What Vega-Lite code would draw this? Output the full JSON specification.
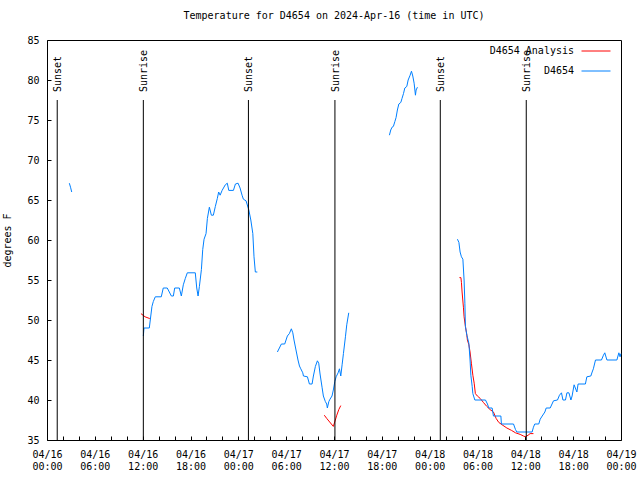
{
  "$schema": "https://vega.github.io/schema/vega-lite/v6.json",
  "width": 574,
  "height": 400,
  "autosize": "none",
  "padding": {"left": 47, "top": 40, "right": 19, "bottom": 40},
  "background": "white",
  "title": {"text": "Temperature for D4654 on 2024-Apr-16 (time in UTC)", "font": "DejaVu Sans Mono", "fontSize": 10, "fontWeight": "normal", "color": "black", "offset": 14},
  "config": {
    "view": {"stroke": "black", "strokeWidth": 1},
    "axis": {"grid": false, "domain": false, "tickColor": "black", "labelColor": "black", "titleColor": "black", "labelFont": "DejaVu Sans Mono", "labelFontSize": 10, "titleFont": "DejaVu Sans Mono", "titleFontSize": 10, "titleFontWeight": "normal"},
    "text": {"font": "DejaVu Sans Mono", "fontSize": 10}
  },
  "datasets": {
    "sun": [
      {"t": "2024-04-16T01:17Z", "e": "Sunset"},
      {"t": "2024-04-16T12:05Z", "e": "Sunrise"},
      {"t": "2024-04-17T01:16Z", "e": "Sunset"},
      {"t": "2024-04-17T12:07Z", "e": "Sunrise"},
      {"t": "2024-04-18T01:20Z", "e": "Sunset"},
      {"t": "2024-04-18T12:07Z", "e": "Sunrise"}
    ],
    "temps": [
      {"s": "D4654 Analysis", "g": "a1", "t": "2024-04-16T11:47Z", "v": 50.8},
      {"s": "D4654 Analysis", "g": "a1", "t": "2024-04-16T12:18Z", "v": 50.4},
      {"s": "D4654 Analysis", "g": "a1", "t": "2024-04-16T12:50Z", "v": 50.2},
      {"s": "D4654 Analysis", "g": "a1", "t": "2024-04-16T13:01Z", "v": 50.2},
      {"s": "D4654 Analysis", "g": "a2", "t": "2024-04-17T10:47Z", "v": 38.1},
      {"s": "D4654 Analysis", "g": "a2", "t": "2024-04-17T11:05Z", "v": 37.7},
      {"s": "D4654 Analysis", "g": "a2", "t": "2024-04-17T11:40Z", "v": 37.0},
      {"s": "D4654 Analysis", "g": "a2", "t": "2024-04-17T11:55Z", "v": 36.7},
      {"s": "D4654 Analysis", "g": "a2", "t": "2024-04-17T12:10Z", "v": 37.5},
      {"s": "D4654 Analysis", "g": "a2", "t": "2024-04-17T12:21Z", "v": 38.1},
      {"s": "D4654 Analysis", "g": "a2", "t": "2024-04-17T12:36Z", "v": 38.8},
      {"s": "D4654 Analysis", "g": "a2", "t": "2024-04-17T12:51Z", "v": 39.3},
      {"s": "D4654 Analysis", "g": "a3", "t": "2024-04-18T03:44Z", "v": 55.3},
      {"s": "D4654 Analysis", "g": "a3", "t": "2024-04-18T03:55Z", "v": 55.3},
      {"s": "D4654 Analysis", "g": "a3", "t": "2024-04-18T03:59Z", "v": 54.7},
      {"s": "D4654 Analysis", "g": "a3", "t": "2024-04-18T04:04Z", "v": 53.5},
      {"s": "D4654 Analysis", "g": "a3", "t": "2024-04-18T04:14Z", "v": 51.6},
      {"s": "D4654 Analysis", "g": "a3", "t": "2024-04-18T04:19Z", "v": 50.4},
      {"s": "D4654 Analysis", "g": "a3", "t": "2024-04-18T04:29Z", "v": 49.2},
      {"s": "D4654 Analysis", "g": "a3", "t": "2024-04-18T04:40Z", "v": 48.1},
      {"s": "D4654 Analysis", "g": "a3", "t": "2024-04-18T04:44Z", "v": 47.5},
      {"s": "D4654 Analysis", "g": "a3", "t": "2024-04-18T04:55Z", "v": 46.9},
      {"s": "D4654 Analysis", "g": "a3", "t": "2024-04-18T05:04Z", "v": 46.0},
      {"s": "D4654 Analysis", "g": "a3", "t": "2024-04-18T05:14Z", "v": 44.6},
      {"s": "D4654 Analysis", "g": "a3", "t": "2024-04-18T05:25Z", "v": 43.1},
      {"s": "D4654 Analysis", "g": "a3", "t": "2024-04-18T05:35Z", "v": 42.1},
      {"s": "D4654 Analysis", "g": "a3", "t": "2024-04-18T05:44Z", "v": 40.8},
      {"s": "D4654 Analysis", "g": "a3", "t": "2024-04-18T05:59Z", "v": 40.5},
      {"s": "D4654 Analysis", "g": "a3", "t": "2024-04-18T06:20Z", "v": 40.2},
      {"s": "D4654 Analysis", "g": "a3", "t": "2024-04-18T06:44Z", "v": 39.7},
      {"s": "D4654 Analysis", "g": "a3", "t": "2024-04-18T07:10Z", "v": 39.2},
      {"s": "D4654 Analysis", "g": "a3", "t": "2024-04-18T07:35Z", "v": 38.8},
      {"s": "D4654 Analysis", "g": "a3", "t": "2024-04-18T08:00Z", "v": 38.5},
      {"s": "D4654 Analysis", "g": "a3", "t": "2024-04-18T08:20Z", "v": 37.7},
      {"s": "D4654 Analysis", "g": "a3", "t": "2024-04-18T08:40Z", "v": 37.2},
      {"s": "D4654 Analysis", "g": "a3", "t": "2024-04-18T09:05Z", "v": 36.9},
      {"s": "D4654 Analysis", "g": "a3", "t": "2024-04-18T09:41Z", "v": 36.5},
      {"s": "D4654 Analysis", "g": "a3", "t": "2024-04-18T10:16Z", "v": 36.2},
      {"s": "D4654 Analysis", "g": "a3", "t": "2024-04-18T10:46Z", "v": 35.9},
      {"s": "D4654 Analysis", "g": "a3", "t": "2024-04-18T11:21Z", "v": 35.7},
      {"s": "D4654 Analysis", "g": "a3", "t": "2024-04-18T11:46Z", "v": 35.5},
      {"s": "D4654 Analysis", "g": "a3", "t": "2024-04-18T12:01Z", "v": 35.4},
      {"s": "D4654 Analysis", "g": "a3", "t": "2024-04-18T12:21Z", "v": 35.6},
      {"s": "D4654 Analysis", "g": "a3", "t": "2024-04-18T12:36Z", "v": 35.8},
      {"s": "D4654 Analysis", "g": "a3", "t": "2024-04-18T13:01Z", "v": 35.8},
      {"s": "D4654", "g": "b1", "t": "2024-04-16T02:48Z", "v": 67.1},
      {"s": "D4654", "g": "b1", "t": "2024-04-16T02:57Z", "v": 66.6},
      {"s": "D4654", "g": "b1", "t": "2024-04-16T03:06Z", "v": 66.0},
      {"s": "D4654", "g": "b2", "t": "2024-04-16T12:05Z", "v": 48.0},
      {"s": "D4654", "g": "b2", "t": "2024-04-16T12:10Z", "v": 49.0},
      {"s": "D4654", "g": "b2", "t": "2024-04-16T12:50Z", "v": 49.0},
      {"s": "D4654", "g": "b2", "t": "2024-04-16T13:01Z", "v": 50.5},
      {"s": "D4654", "g": "b2", "t": "2024-04-16T13:10Z", "v": 51.7},
      {"s": "D4654", "g": "b2", "t": "2024-04-16T13:20Z", "v": 52.3},
      {"s": "D4654", "g": "b2", "t": "2024-04-16T13:35Z", "v": 52.9},
      {"s": "D4654", "g": "b2", "t": "2024-04-16T14:20Z", "v": 52.9},
      {"s": "D4654", "g": "b2", "t": "2024-04-16T14:35Z", "v": 54.0},
      {"s": "D4654", "g": "b2", "t": "2024-04-16T15:05Z", "v": 54.0},
      {"s": "D4654", "g": "b2", "t": "2024-04-16T15:36Z", "v": 53.0},
      {"s": "D4654", "g": "b2", "t": "2024-04-16T15:51Z", "v": 53.0},
      {"s": "D4654", "g": "b2", "t": "2024-04-16T16:01Z", "v": 54.0},
      {"s": "D4654", "g": "b2", "t": "2024-04-16T16:36Z", "v": 54.0},
      {"s": "D4654", "g": "b2", "t": "2024-04-16T16:51Z", "v": 53.0},
      {"s": "D4654", "g": "b2", "t": "2024-04-16T17:06Z", "v": 54.4},
      {"s": "D4654", "g": "b2", "t": "2024-04-16T17:21Z", "v": 55.2},
      {"s": "D4654", "g": "b2", "t": "2024-04-16T17:36Z", "v": 55.9},
      {"s": "D4654", "g": "b2", "t": "2024-04-16T18:36Z", "v": 55.9},
      {"s": "D4654", "g": "b2", "t": "2024-04-16T18:47Z", "v": 54.0},
      {"s": "D4654", "g": "b2", "t": "2024-04-16T18:57Z", "v": 53.0},
      {"s": "D4654", "g": "b2", "t": "2024-04-16T19:07Z", "v": 54.2},
      {"s": "D4654", "g": "b2", "t": "2024-04-16T19:22Z", "v": 56.3},
      {"s": "D4654", "g": "b2", "t": "2024-04-16T19:32Z", "v": 58.8},
      {"s": "D4654", "g": "b2", "t": "2024-04-16T19:42Z", "v": 60.1},
      {"s": "D4654", "g": "b2", "t": "2024-04-16T19:57Z", "v": 60.8},
      {"s": "D4654", "g": "b2", "t": "2024-04-16T20:07Z", "v": 62.7},
      {"s": "D4654", "g": "b2", "t": "2024-04-16T20:22Z", "v": 64.1},
      {"s": "D4654", "g": "b2", "t": "2024-04-16T20:37Z", "v": 63.1},
      {"s": "D4654", "g": "b2", "t": "2024-04-16T20:52Z", "v": 63.1},
      {"s": "D4654", "g": "b2", "t": "2024-04-16T21:07Z", "v": 64.2},
      {"s": "D4654", "g": "b2", "t": "2024-04-16T21:22Z", "v": 65.2},
      {"s": "D4654", "g": "b2", "t": "2024-04-16T21:32Z", "v": 66.0},
      {"s": "D4654", "g": "b2", "t": "2024-04-16T21:43Z", "v": 65.6},
      {"s": "D4654", "g": "b2", "t": "2024-04-16T21:58Z", "v": 66.2},
      {"s": "D4654", "g": "b2", "t": "2024-04-16T22:22Z", "v": 66.9},
      {"s": "D4654", "g": "b2", "t": "2024-04-16T22:37Z", "v": 67.1},
      {"s": "D4654", "g": "b2", "t": "2024-04-16T22:48Z", "v": 66.2},
      {"s": "D4654", "g": "b2", "t": "2024-04-16T23:23Z", "v": 66.2},
      {"s": "D4654", "g": "b2", "t": "2024-04-16T23:38Z", "v": 67.0},
      {"s": "D4654", "g": "b2", "t": "2024-04-16T23:58Z", "v": 67.1},
      {"s": "D4654", "g": "b2", "t": "2024-04-17T00:13Z", "v": 66.5},
      {"s": "D4654", "g": "b2", "t": "2024-04-17T00:28Z", "v": 65.6},
      {"s": "D4654", "g": "b2", "t": "2024-04-17T00:38Z", "v": 65.1},
      {"s": "D4654", "g": "b2", "t": "2024-04-17T00:58Z", "v": 64.9},
      {"s": "D4654", "g": "b2", "t": "2024-04-17T01:19Z", "v": 63.75},
      {"s": "D4654", "g": "b2", "t": "2024-04-17T01:34Z", "v": 62.5},
      {"s": "D4654", "g": "b2", "t": "2024-04-17T01:49Z", "v": 60.8},
      {"s": "D4654", "g": "b2", "t": "2024-04-17T01:58Z", "v": 57.9},
      {"s": "D4654", "g": "b2", "t": "2024-04-17T02:08Z", "v": 56.0},
      {"s": "D4654", "g": "b2", "t": "2024-04-17T02:23Z", "v": 56.0},
      {"s": "D4654", "g": "b3", "t": "2024-04-17T04:54Z", "v": 46.0},
      {"s": "D4654", "g": "b3", "t": "2024-04-17T05:09Z", "v": 46.5},
      {"s": "D4654", "g": "b3", "t": "2024-04-17T05:24Z", "v": 47.0},
      {"s": "D4654", "g": "b3", "t": "2024-04-17T05:49Z", "v": 47.0},
      {"s": "D4654", "g": "b3", "t": "2024-04-17T05:59Z", "v": 47.5},
      {"s": "D4654", "g": "b3", "t": "2024-04-17T06:09Z", "v": 48.0},
      {"s": "D4654", "g": "b3", "t": "2024-04-17T06:24Z", "v": 48.3},
      {"s": "D4654", "g": "b3", "t": "2024-04-17T06:39Z", "v": 48.9},
      {"s": "D4654", "g": "b3", "t": "2024-04-17T06:50Z", "v": 48.4},
      {"s": "D4654", "g": "b3", "t": "2024-04-17T06:59Z", "v": 47.5},
      {"s": "D4654", "g": "b3", "t": "2024-04-17T07:14Z", "v": 46.25},
      {"s": "D4654", "g": "b3", "t": "2024-04-17T07:29Z", "v": 45.0},
      {"s": "D4654", "g": "b3", "t": "2024-04-17T07:40Z", "v": 44.25},
      {"s": "D4654", "g": "b3", "t": "2024-04-17T07:50Z", "v": 43.9},
      {"s": "D4654", "g": "b3", "t": "2024-04-17T08:05Z", "v": 43.4},
      {"s": "D4654", "g": "b3", "t": "2024-04-17T08:10Z", "v": 43.0},
      {"s": "D4654", "g": "b3", "t": "2024-04-17T08:40Z", "v": 42.9},
      {"s": "D4654", "g": "b3", "t": "2024-04-17T08:55Z", "v": 42.0},
      {"s": "D4654", "g": "b3", "t": "2024-04-17T09:15Z", "v": 42.0},
      {"s": "D4654", "g": "b3", "t": "2024-04-17T09:25Z", "v": 43.0},
      {"s": "D4654", "g": "b3", "t": "2024-04-17T09:40Z", "v": 44.2},
      {"s": "D4654", "g": "b3", "t": "2024-04-17T09:55Z", "v": 44.9},
      {"s": "D4654", "g": "b3", "t": "2024-04-17T10:05Z", "v": 44.6},
      {"s": "D4654", "g": "b3", "t": "2024-04-17T10:15Z", "v": 43.25},
      {"s": "D4654", "g": "b3", "t": "2024-04-17T10:30Z", "v": 41.6},
      {"s": "D4654", "g": "b3", "t": "2024-04-17T10:40Z", "v": 40.5},
      {"s": "D4654", "g": "b3", "t": "2024-04-17T10:55Z", "v": 39.8},
      {"s": "D4654", "g": "b3", "t": "2024-04-17T11:05Z", "v": 39.5},
      {"s": "D4654", "g": "b3", "t": "2024-04-17T11:10Z", "v": 39.0},
      {"s": "D4654", "g": "b3", "t": "2024-04-17T11:21Z", "v": 39.8},
      {"s": "D4654", "g": "b3", "t": "2024-04-17T11:30Z", "v": 40.1},
      {"s": "D4654", "g": "b3", "t": "2024-04-17T11:45Z", "v": 40.5},
      {"s": "D4654", "g": "b3", "t": "2024-04-17T11:55Z", "v": 41.25},
      {"s": "D4654", "g": "b3", "t": "2024-04-17T12:06Z", "v": 42.3},
      {"s": "D4654", "g": "b3", "t": "2024-04-17T12:16Z", "v": 42.9},
      {"s": "D4654", "g": "b3", "t": "2024-04-17T12:31Z", "v": 43.4},
      {"s": "D4654", "g": "b3", "t": "2024-04-17T12:41Z", "v": 43.9},
      {"s": "D4654", "g": "b3", "t": "2024-04-17T12:51Z", "v": 43.0},
      {"s": "D4654", "g": "b3", "t": "2024-04-17T13:01Z", "v": 44.4},
      {"s": "D4654", "g": "b3", "t": "2024-04-17T13:11Z", "v": 45.8},
      {"s": "D4654", "g": "b3", "t": "2024-04-17T13:26Z", "v": 47.9},
      {"s": "D4654", "g": "b3", "t": "2024-04-17T13:36Z", "v": 49.4},
      {"s": "D4654", "g": "b3", "t": "2024-04-17T13:51Z", "v": 50.9},
      {"s": "D4654", "g": "b4", "t": "2024-04-17T18:57Z", "v": 73.1},
      {"s": "D4654", "g": "b4", "t": "2024-04-17T19:07Z", "v": 73.75},
      {"s": "D4654", "g": "b4", "t": "2024-04-17T19:17Z", "v": 74.1},
      {"s": "D4654", "g": "b4", "t": "2024-04-17T19:27Z", "v": 74.2},
      {"s": "D4654", "g": "b4", "t": "2024-04-17T19:38Z", "v": 74.8},
      {"s": "D4654", "g": "b4", "t": "2024-04-17T19:47Z", "v": 75.3},
      {"s": "D4654", "g": "b4", "t": "2024-04-17T19:57Z", "v": 76.25},
      {"s": "D4654", "g": "b4", "t": "2024-04-17T20:08Z", "v": 77.0},
      {"s": "D4654", "g": "b4", "t": "2024-04-17T20:23Z", "v": 77.2},
      {"s": "D4654", "g": "b4", "t": "2024-04-17T20:32Z", "v": 77.7},
      {"s": "D4654", "g": "b4", "t": "2024-04-17T20:43Z", "v": 78.3},
      {"s": "D4654", "g": "b4", "t": "2024-04-17T20:53Z", "v": 79.0},
      {"s": "D4654", "g": "b4", "t": "2024-04-17T21:08Z", "v": 79.2},
      {"s": "D4654", "g": "b4", "t": "2024-04-17T21:18Z", "v": 80.0},
      {"s": "D4654", "g": "b4", "t": "2024-04-17T21:33Z", "v": 80.6},
      {"s": "D4654", "g": "b4", "t": "2024-04-17T21:43Z", "v": 81.1},
      {"s": "D4654", "g": "b4", "t": "2024-04-17T21:53Z", "v": 80.5},
      {"s": "D4654", "g": "b4", "t": "2024-04-17T22:03Z", "v": 79.6},
      {"s": "D4654", "g": "b4", "t": "2024-04-17T22:13Z", "v": 78.1},
      {"s": "D4654", "g": "b4", "t": "2024-04-17T22:18Z", "v": 78.75},
      {"s": "D4654", "g": "b4", "t": "2024-04-17T22:28Z", "v": 79.1},
      {"s": "D4654", "g": "b5", "t": "2024-04-18T03:29Z", "v": 60.1},
      {"s": "D4654", "g": "b5", "t": "2024-04-18T03:40Z", "v": 59.7},
      {"s": "D4654", "g": "b5", "t": "2024-04-18T03:49Z", "v": 58.5},
      {"s": "D4654", "g": "b5", "t": "2024-04-18T03:59Z", "v": 57.9},
      {"s": "D4654", "g": "b5", "t": "2024-04-18T04:10Z", "v": 57.6},
      {"s": "D4654", "g": "b5", "t": "2024-04-18T04:19Z", "v": 55.0},
      {"s": "D4654", "g": "b5", "t": "2024-04-18T04:25Z", "v": 52.1},
      {"s": "D4654", "g": "b5", "t": "2024-04-18T04:29Z", "v": 49.2},
      {"s": "D4654", "g": "b5", "t": "2024-04-18T04:40Z", "v": 48.1},
      {"s": "D4654", "g": "b5", "t": "2024-04-18T04:55Z", "v": 47.1},
      {"s": "D4654", "g": "b5", "t": "2024-04-18T05:04Z", "v": 45.0},
      {"s": "D4654", "g": "b5", "t": "2024-04-18T05:10Z", "v": 43.1},
      {"s": "D4654", "g": "b5", "t": "2024-04-18T05:20Z", "v": 41.7},
      {"s": "D4654", "g": "b5", "t": "2024-04-18T05:25Z", "v": 40.8},
      {"s": "D4654", "g": "b5", "t": "2024-04-18T05:40Z", "v": 40.0},
      {"s": "D4654", "g": "b5", "t": "2024-04-18T07:00Z", "v": 40.0},
      {"s": "D4654", "g": "b5", "t": "2024-04-18T07:15Z", "v": 39.5},
      {"s": "D4654", "g": "b5", "t": "2024-04-18T07:25Z", "v": 39.0},
      {"s": "D4654", "g": "b5", "t": "2024-04-18T07:50Z", "v": 39.0},
      {"s": "D4654", "g": "b5", "t": "2024-04-18T08:00Z", "v": 38.0},
      {"s": "D4654", "g": "b5", "t": "2024-04-18T08:56Z", "v": 38.0},
      {"s": "D4654", "g": "b5", "t": "2024-04-18T09:00Z", "v": 37.0},
      {"s": "D4654", "g": "b5", "t": "2024-04-18T10:31Z", "v": 37.0},
      {"s": "D4654", "g": "b5", "t": "2024-04-18T10:46Z", "v": 36.3},
      {"s": "D4654", "g": "b5", "t": "2024-04-18T10:56Z", "v": 36.0},
      {"s": "D4654", "g": "b5", "t": "2024-04-18T12:51Z", "v": 36.0},
      {"s": "D4654", "g": "b5", "t": "2024-04-18T13:01Z", "v": 36.6},
      {"s": "D4654", "g": "b5", "t": "2024-04-18T13:11Z", "v": 37.0},
      {"s": "D4654", "g": "b5", "t": "2024-04-18T13:41Z", "v": 37.0},
      {"s": "D4654", "g": "b5", "t": "2024-04-18T13:52Z", "v": 37.6},
      {"s": "D4654", "g": "b5", "t": "2024-04-18T14:07Z", "v": 38.0},
      {"s": "D4654", "g": "b5", "t": "2024-04-18T14:27Z", "v": 38.5},
      {"s": "D4654", "g": "b5", "t": "2024-04-18T14:37Z", "v": 39.0},
      {"s": "D4654", "g": "b5", "t": "2024-04-18T15:07Z", "v": 39.0},
      {"s": "D4654", "g": "b5", "t": "2024-04-18T15:32Z", "v": 39.9},
      {"s": "D4654", "g": "b5", "t": "2024-04-18T16:02Z", "v": 40.0},
      {"s": "D4654", "g": "b5", "t": "2024-04-18T16:17Z", "v": 40.6},
      {"s": "D4654", "g": "b5", "t": "2024-04-18T16:32Z", "v": 40.9},
      {"s": "D4654", "g": "b5", "t": "2024-04-18T16:43Z", "v": 40.0},
      {"s": "D4654", "g": "b5", "t": "2024-04-18T17:02Z", "v": 40.0},
      {"s": "D4654", "g": "b5", "t": "2024-04-18T17:13Z", "v": 40.9},
      {"s": "D4654", "g": "b5", "t": "2024-04-18T17:28Z", "v": 40.9},
      {"s": "D4654", "g": "b5", "t": "2024-04-18T17:43Z", "v": 40.0},
      {"s": "D4654", "g": "b5", "t": "2024-04-18T17:52Z", "v": 40.5},
      {"s": "D4654", "g": "b5", "t": "2024-04-18T18:07Z", "v": 41.9},
      {"s": "D4654", "g": "b5", "t": "2024-04-18T18:28Z", "v": 41.0},
      {"s": "D4654", "g": "b5", "t": "2024-04-18T18:37Z", "v": 42.0},
      {"s": "D4654", "g": "b5", "t": "2024-04-18T19:32Z", "v": 42.0},
      {"s": "D4654", "g": "b5", "t": "2024-04-18T19:43Z", "v": 42.9},
      {"s": "D4654", "g": "b5", "t": "2024-04-18T20:13Z", "v": 43.0},
      {"s": "D4654", "g": "b5", "t": "2024-04-18T20:23Z", "v": 43.5},
      {"s": "D4654", "g": "b5", "t": "2024-04-18T20:32Z", "v": 43.9},
      {"s": "D4654", "g": "b5", "t": "2024-04-18T20:48Z", "v": 45.0},
      {"s": "D4654", "g": "b5", "t": "2024-04-18T21:33Z", "v": 45.0},
      {"s": "D4654", "g": "b5", "t": "2024-04-18T21:48Z", "v": 45.6},
      {"s": "D4654", "g": "b5", "t": "2024-04-18T21:58Z", "v": 45.9},
      {"s": "D4654", "g": "b5", "t": "2024-04-18T22:14Z", "v": 45.0},
      {"s": "D4654", "g": "b5", "t": "2024-04-18T23:29Z", "v": 45.0},
      {"s": "D4654", "g": "b5", "t": "2024-04-18T23:44Z", "v": 45.9},
      {"s": "D4654", "g": "b5", "t": "2024-04-18T23:53Z", "v": 45.4},
      {"s": "D4654", "g": "b5", "t": "2024-04-18T23:59Z", "v": 45.8}
    ]
  },
  "layer": [
    {
      "data": {"name": "temps"},
      "mark": {"type": "line", "strokeWidth": 1},
      "encoding": {
        "x": {"field": "t", "type": "temporal",
              "scale": {"type": "utc", "domain": [1713225600000, 1713484800000]},
              "axis": {"orient": "bottom", "title": null, "tickSize": 4, "offset": -4, "labelPadding": 9, "labelOverlap": false, "labelFlush": false, "tickCount": 40,
                       "values": [1713225600000, 1713232800000, 1713240000000, 1713247200000, 1713254400000, 1713261600000, 1713268800000, 1713276000000, 1713283200000, 1713290400000, 1713297600000, 1713304800000, 1713312000000, 1713319200000, 1713326400000, 1713333600000, 1713340800000, 1713348000000, 1713355200000, 1713362400000, 1713369600000, 1713376800000, 1713384000000, 1713391200000, 1713398400000, 1713405600000, 1713412800000, 1713420000000, 1713427200000, 1713434400000, 1713441600000, 1713448800000, 1713456000000, 1713463200000, 1713470400000, 1713477600000, 1713484800000],
                       "labelExpr": "utchours(datum.value) % 6 == 0 ? [utcFormat(datum.value, '%m/%d'), utcFormat(datum.value, '%H:%M')] : ''"}},
        "y": {"field": "v", "type": "quantitative",
              "scale": {"domain": [35, 85], "nice": false},
              "axis": {"orient": "left", "title": "degrees F", "tickSize": 4, "offset": -4, "labelPadding": 8, "titlePadding": 14, "labelOverlap": false, "labelFlush": false, "tickCount": 12, "values": [35, 40, 45, 50, 55, 60, 65, 70, 75, 80, 85]}},
        "color": {"field": "s", "type": "nominal",
                  "scale": {"domain": ["D4654 Analysis", "D4654"], "range": ["#ff0000", "#0080ff"]},
                  "legend": {"title": null, "orient": "none", "legendX": 534, "legendY": -4, "symbolType": "stroke", "symbolSize": 841, "symbolStrokeWidth": 1, "labelAlign": "right", "labelOffset": -37, "labelFont": "DejaVu Sans Mono", "labelFontSize": 10, "labelColor": "black", "rowPadding": -15, "padding": 0}},
        "detail": {"field": "g"}
      }
    },
    {
      "data": {"name": "sun"},
      "mark": {"type": "rule", "color": "black", "strokeWidth": 1},
      "encoding": {
        "x": {"field": "t", "type": "temporal"},
        "y": {"datum": 77.5, "type": "quantitative"},
        "y2": {"datum": 35}
      }
    },
    {
      "data": {"name": "sun"},
      "mark": {"type": "text", "angle": 270, "align": "left", "baseline": "middle", "dy": 1, "color": "black", "font": "DejaVu Sans Mono", "fontSize": 10},
      "encoding": {
        "x": {"field": "t", "type": "temporal"},
        "y": {"datum": 78.5, "type": "quantitative"},
        "text": {"field": "e"}
      }
    }
  ]
}
